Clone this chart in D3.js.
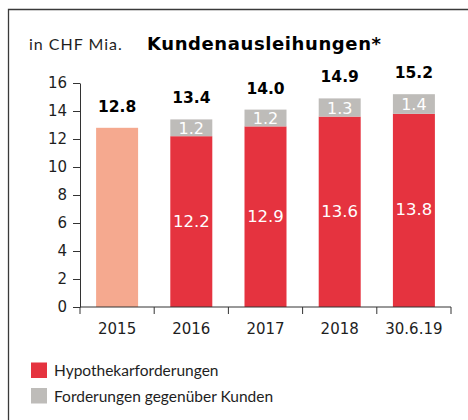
<!DOCTYPE html>
<html>
<head>
<meta charset="utf-8">
<script src="https://cdn.jsdelivr.net/npm/d3@7"></script>
<style>
  body { margin: 0; background: #fff; }
  svg { display: block; font-family: "Lato", sans-serif; }
  .num { font-family: "DejaVu Sans", sans-serif; }
</style>
</head>
<body>
<svg id="chart"></svg>
<script>
const W = 468, H = 420;

const categories = ["2015", "2016", "2017", "2018", "30.6.19"];
const hypo = [null, 12.2, 12.9, 13.6, 13.8];
const forderungen = [null, 1.2, 1.2, 1.3, 1.4];
const totals = [12.8, 13.4, 14.0, 14.9, 15.2];
const yTicks = [0, 2, 4, 6, 8, 10, 12, 14, 16];

const COLORS = { single: "#f5a98f", hypo: "#e5333f", ford: "#bebcb9" };
const TEXT = "#1e1e1e";

const svg = d3.select("#chart")
    .attr("width", W)
    .attr("height", H)
    .attr("viewBox", `0 0 ${W} ${H}`);

// frame (top + left)
svg.append("path")
    .attr("d", `M8.5,${H} V9.5 H${W}`)
    .attr("fill", "none")
    .attr("stroke", "#3a3a3a")
    .attr("stroke-width", 1.3);

const x = d3.scaleBand()
    .domain(categories)
    .range([80, 451])
    .paddingInner(0.434)
    .paddingOuter(0.217);

const y = d3.scaleLinear()
    .domain([0, 16])
    .range([307, 83]);

const gap = x.step() - x.bandwidth();

// bars
const rows = categories.map((c, i) => ({ c, hypo: hypo[i], ford: forderungen[i], total: totals[i] }));

const bars = svg.append("g");
rows.forEach(d => {
    const cx = x(d.c) + x.bandwidth() / 2;
    if (d.hypo == null) {
        bars.append("rect")
            .attr("x", x(d.c)).attr("width", x.bandwidth())
            .attr("y", y(d.total)).attr("height", y(0) - y(d.total))
            .attr("fill", COLORS.single);
    } else {
        bars.append("rect")
            .attr("x", x(d.c)).attr("width", x.bandwidth())
            .attr("y", y(d.hypo)).attr("height", y(0) - y(d.hypo))
            .attr("fill", COLORS.hypo);
        bars.append("rect")
            .attr("x", x(d.c)).attr("width", x.bandwidth())
            .attr("y", y(d.hypo + d.ford)).attr("height", y(d.hypo) - y(d.hypo + d.ford))
            .attr("fill", COLORS.ford);
        // segment labels
        bars.append("text")
            .attr("class", "num")
            .attr("x", cx)
            .attr("y", (y(d.hypo) + y(0)) / 2 + 5)
            .attr("text-anchor", "middle")
            .attr("fill", "#fff")
            .style("font-size", "16.5px")
            .text(d.hypo.toFixed(1));
        bars.append("text")
            .attr("class", "num")
            .attr("x", cx)
            .attr("y", (y(d.hypo) + y(d.hypo + d.ford)) / 2 + 6)
            .attr("text-anchor", "middle")
            .attr("fill", "#fff")
            .style("font-size", "16px")
            .text(d.ford.toFixed(1));
    }
    const top = d.hypo == null ? d.total : d.hypo + d.ford;
    bars.append("text")
        .attr("class", "num")
        .attr("x", cx)
        .attr("y", y(top) - 16)
        .attr("text-anchor", "middle")
        .attr("fill", "#000")
        .style("font-size", "15.5px")
        .style("font-weight", "bold")
        .text(d.total.toFixed(1));
});

// y axis
const yAxis = svg.append("g")
    .attr("transform", "translate(80,0)")
    .call(d3.axisLeft(y).tickValues(yTicks).tickSize(7).tickSizeOuter(0).tickPadding(6));
yAxis.selectAll("text")
    .attr("class", "num")
    .style("font-size", "15px")
    .style("font-family", "DejaVu Sans")
    .attr("fill", TEXT);
yAxis.selectAll("line, path").attr("stroke", "#333");

// x axis
const xg = svg.append("g");
xg.append("line")
    .attr("x1", 80).attr("x2", 451)
    .attr("y1", y(0)).attr("y2", y(0))
    .attr("stroke", "#333");
const bounds = categories.map(c => x(c) - gap / 2)
    .concat([x(categories[categories.length - 1]) + x.bandwidth() + gap / 2]);
xg.selectAll("line.tick")
    .data(bounds)
    .enter().append("line")
    .attr("class", "tick")
    .attr("x1", d => d).attr("x2", d => d)
    .attr("y1", y(0)).attr("y2", y(0) + 7)
    .attr("stroke", "#333");
xg.selectAll("text")
    .data(categories)
    .enter().append("text")
    .attr("class", "num")
    .attr("x", d => x(d) + x.bandwidth() / 2)
    .attr("y", 334)
    .attr("text-anchor", "middle")
    .attr("fill", TEXT)
    .style("font-size", "15px")
    .text(d => d);

// titles
svg.append("text")
    .attr("x", 29).attr("y", 50)
    .attr("fill", TEXT)
    .style("font-size", "16px")
    .style("letter-spacing", "1px")
    .text("in CHF Mia.");
svg.append("text")
    .attr("x", 147).attr("y", 50)
    .attr("fill", "#000")
    .style("font-family", "DejaVu Sans")
    .style("font-size", "18px")
    .style("font-weight", "bold")
    .style("letter-spacing", "0.6px")
    .text("Kundenausleihungen*");

// legend
const legendItems = [
    { label: "Hypothekarforderungen", color: COLORS.hypo },
    { label: "Forderungen gegenüber Kunden", color: COLORS.ford }
];
const lg = svg.append("g");
legendItems.forEach((d, i) => {
    lg.append("rect")
        .attr("x", 31).attr("y", 362.5 + i * 25.5)
        .attr("width", 16).attr("height", 15.5)
        .attr("fill", d.color);
    lg.append("text")
        .attr("x", 54).attr("y", 376 + i * 25.5)
        .attr("fill", TEXT)
        .style("font-size", "15.5px")
        .text(d.label);
});
</script>
</body>
</html>
